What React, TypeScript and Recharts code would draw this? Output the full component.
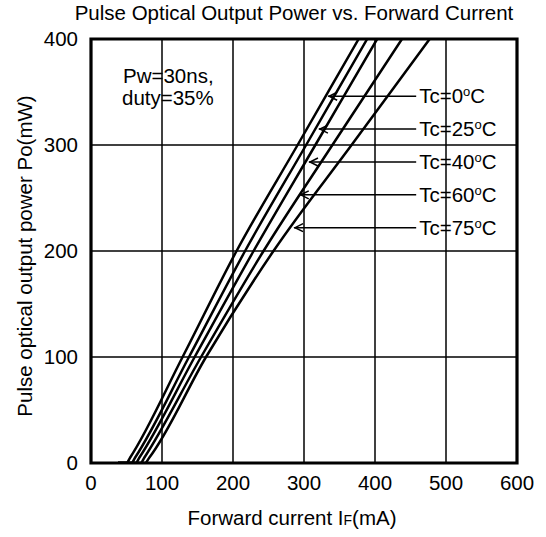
import { LineChart, Line, XAxis, YAxis, CartesianGrid, ReferenceLine, ReferenceArea } from 'recharts'

// optical power levels (mW) shared by every curve
const powerLevels = [0, 0, 5, 100, 200, 300, 400]

// forward current (mA) at each power level, one list per case temperature
const currentTc0 = [38, 50, 55, 129, 205, 291, 377]
const currentTc25 = [38, 57, 62, 138, 217, 303, 389]
const currentTc40 = [38, 63, 68, 146, 229, 316, 403]
const currentTc60 = [38, 70, 75, 155, 243, 340, 438]
const currentTc75 = [38, 76, 82, 162, 257, 367, 477]

const temps = ['0', '25', '40', '60', '75']
const arrowPower = [346, 315, 284, 253, 222]
const arrowTip = [334, 321, 307, 294, 286]
const arrowEnd = 458

const xTicks = [0, 100, 200, 300, 400, 500, 600]
const yTicks = [0, 100, 200, 300, 400]

const font = '"Liberation Sans", Arial, sans-serif'
const size = 20.5

const curves = [currentTc0, currentTc25, currentTc40, currentTc60, currentTc75].map((cur) =>
  cur.map((i, k) => ({ i, p: powerLevels[k] }))
)

const renderArrow = (props: any, temp: string) => {
  const { x1, y1, x2, y2 } = props
  return (
    <g>
      <line x1={x1} y1={y1} x2={x2} y2={y2} stroke="#000" strokeWidth={1.5} />
      <polyline
        points={`${x1 + 9},${y1 - 4} ${x1 + 1},${y1} ${x1 + 9},${y1 + 4}`}
        fill="none"
        stroke="#000"
        strokeWidth={1.5}
      />
      <text x={x2 + 3} y={y1} dy="0.35em" fontFamily={font} fontSize={size} fill="#000">
        Tc={temp}
        <tspan fontSize={13} dy={-7}>o</tspan>
        <tspan dy={7}>C</tspan>
      </text>
    </g>
  )
}

export default function App() {
  const tick = { fill: '#000', fontSize: size, fontFamily: font }
  return (
    <div style={{ position: 'absolute', left: 0, top: 0 }}>
      <LineChart width={546} height={537} margin={{ top: 39, right: 29, bottom: 34, left: 0 }}>
        <CartesianGrid stroke="#000" strokeWidth={1.5} />
        <XAxis
          dataKey="i"
          type="number"
          domain={[0, 600]}
          ticks={xTicks}
          height={40}
          tickSize={0}
          tickMargin={12}
          tickLine={false}
          axisLine={false}
          tick={tick}
          allowDataOverflow
        />
        <YAxis
          dataKey="p"
          type="number"
          domain={[0, 400]}
          ticks={yTicks}
          width={91}
          tickSize={0}
          tickMargin={13}
          tickLine={false}
          axisLine={false}
          tick={tick}
          allowDataOverflow
        />
        {curves.map((d, idx) => (
          <Line
            key={temps[idx]}
            data={d}
            dataKey="p"
            type="monotone"
            stroke="#000"
            strokeWidth={2.5}
            dot={false}
            isAnimationActive={false}
          />
        ))}
        <ReferenceArea x1={0} x2={600} y1={0} y2={400} fill="none" stroke="#000" strokeWidth={3.2} />
        {temps.map((t, idx) => (
          <ReferenceLine
            key={`arrow-${t}`}
            segment={[
              { x: arrowTip[idx], y: arrowPower[idx] },
              { x: arrowEnd, y: arrowPower[idx] },
            ]}
            shape={(p: any) => renderArrow(p, t)}
          />
        ))}
        <text x={294} y={20} textAnchor="middle" fontFamily={font} fontSize={size} fill="#000">
          Pulse Optical Output Power vs. Forward Current
        </text>
        <text x={123} y={83} fontFamily={font} fontSize={size} fill="#000">
          Pw=30ns,
        </text>
        <text x={122} y={105} fontFamily={font} fontSize={size} fill="#000">
          duty=35%
        </text>
        <text x={292} y={525} textAnchor="middle" fontFamily={font} fontSize={size} fill="#000">
          Forward current I<tspan fontSize={14}>F</tspan>(mA)
        </text>
        <text
          x={25}
          y={256}
          dy="0.35em"
          textAnchor="middle"
          transform="rotate(-90, 25, 256)"
          fontFamily={font}
          fontSize={size}
          fill="#000"
        >
          Pulse optical output power Po(mW)
        </text>
      </LineChart>
    </div>
  )
}
